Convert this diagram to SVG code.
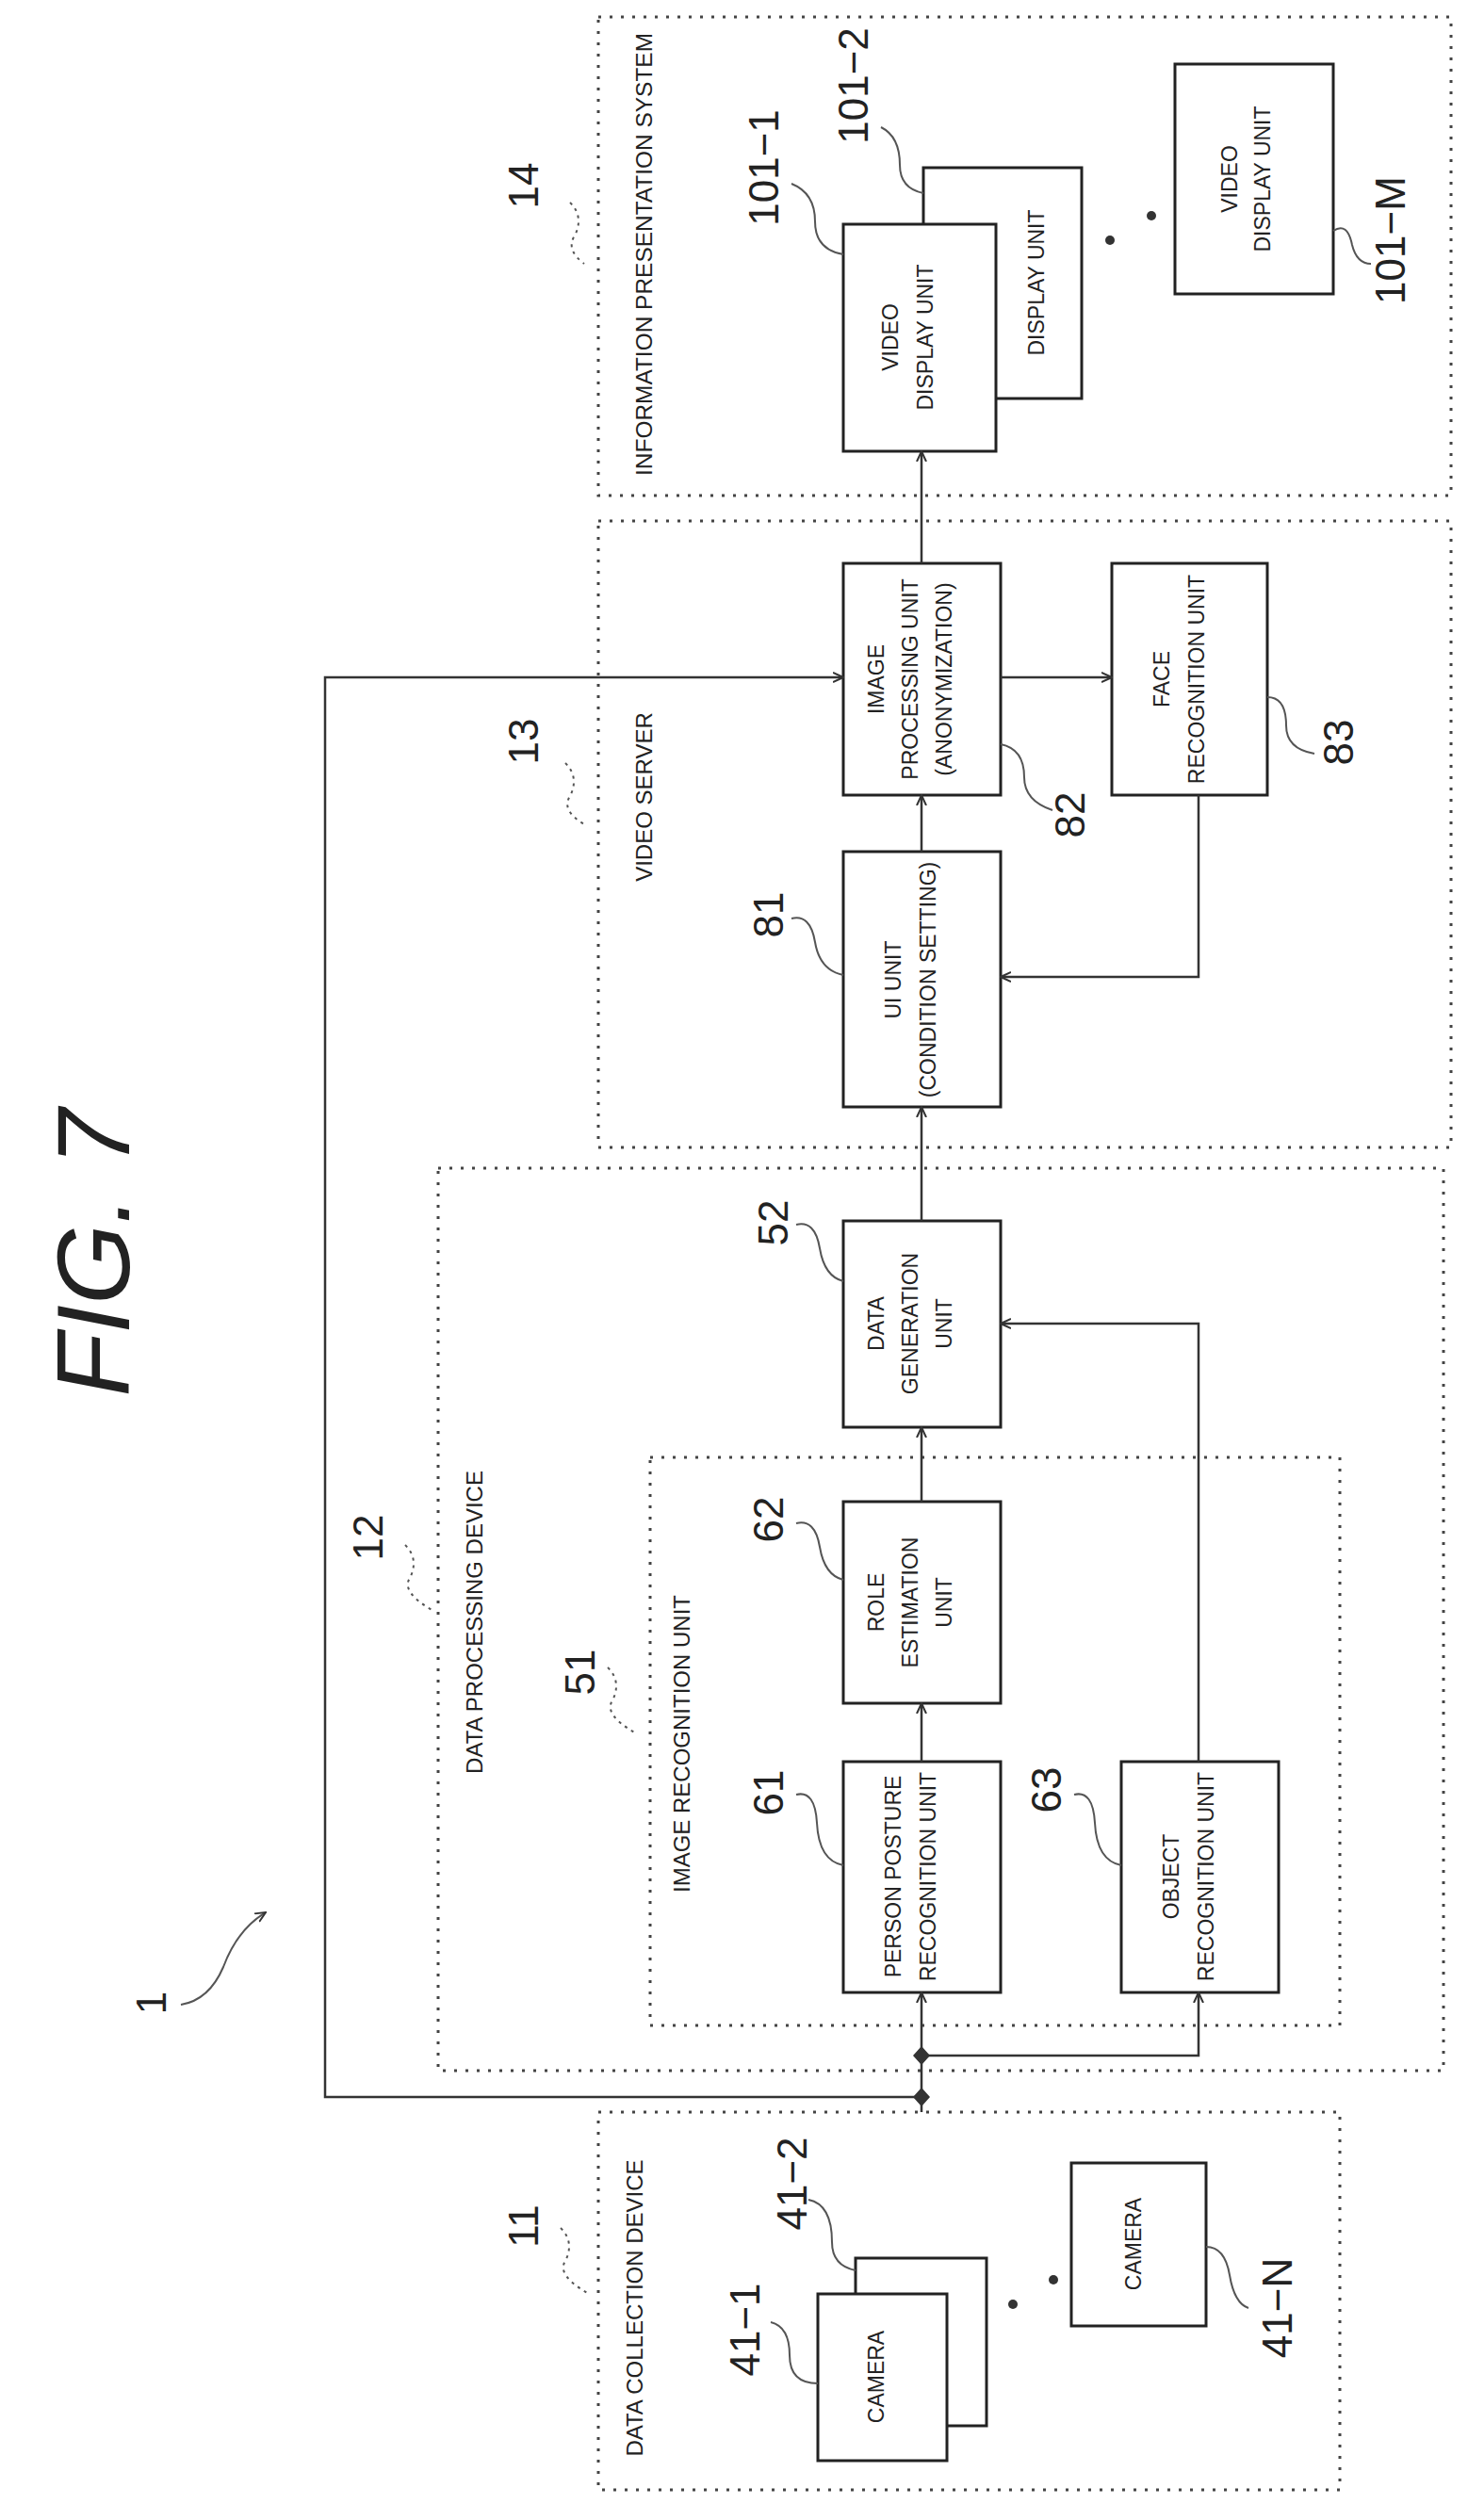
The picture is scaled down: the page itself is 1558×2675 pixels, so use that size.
<svg xmlns="http://www.w3.org/2000/svg" width="1558" height="2675" viewBox="0 0 1558 2675">
<style>
.dash{fill:none;stroke:#444;stroke-width:3;stroke-dasharray:3 9}
.box{fill:#fff;stroke:#222;stroke-width:3}
.ln{fill:none;stroke:#333;stroke-width:2.5}
.ld{fill:none;stroke:#555;stroke-width:2}
.ldd{fill:none;stroke:#555;stroke-width:2;stroke-dasharray:3 5}
text{font-family:"Liberation Sans",Arial,sans-serif;fill:#222;text-anchor:middle;dominant-baseline:central}
.t{font-size:23px}
.n{font-size:44px}
.s{font-size:24px}
</style>
<defs>
<marker id="a" viewBox="0 0 12 12" refX="11" refY="6" markerWidth="12" markerHeight="12" markerUnits="userSpaceOnUse" orient="auto">
<path d="M0,1 L11,6 L0,11" fill="none" stroke="#333" stroke-width="2"/>
</marker>
</defs>
<text transform="translate(98,1330) rotate(-90)" style="font-size:110px;font-style:italic">FIG. 7</text>

<g id="frames">
<rect class="dash" x="635" y="18" width="905" height="508"/>
<rect class="dash" x="635" y="553" width="905" height="665"/>
<rect class="dash" x="465" y="1240" width="1067" height="958"/>
<rect class="dash" x="690" y="1547" width="732" height="603"/>
<rect class="dash" x="635" y="2242" width="787" height="401"/>
<text class="s" transform="translate(683,270) rotate(-90)" textLength="470" lengthAdjust="spacingAndGlyphs">INFORMATION PRESENTATION SYSTEM</text>
<text class="n" transform="translate(555,197) rotate(-90)">14</text>
<path class="ldd" d="M605,215 q15,15 5,35 q-10,15 10,30"/>
<text class="s" transform="translate(683,846) rotate(-90)">VIDEO SERVER</text>
<text class="n" transform="translate(555,787) rotate(-90)">13</text>
<path class="ldd" d="M600,810 q15,15 5,35 q-10,15 15,30"/>
<text class="s" transform="translate(503,1722) rotate(-90)">DATA PROCESSING DEVICE</text>
<text class="n" transform="translate(390,1632) rotate(-90)">12</text>
<path class="ldd" d="M430,1640 q15,15 5,35 q-10,15 25,35"/>
<text class="s" transform="translate(723,1851) rotate(-90)">IMAGE RECOGNITION UNIT</text>
<text class="n" transform="translate(615,1775) rotate(-90)">51</text>
<path class="ldd" d="M645,1770 q15,15 5,35 q-10,15 25,35"/>
<text class="s" transform="translate(673,2450) rotate(-90)">DATA COLLECTION DEVICE</text>
<text class="n" transform="translate(555,2363) rotate(-90)">11</text>
<path class="ldd" d="M595,2365 q15,15 5,35 q-10,15 25,35"/>
<text class="n" transform="translate(160,2126) rotate(-90)">1</text>
<path class="ld" d="M192,2128 q30,-5 45,-40 q15,-40 45,-58" marker-end="url(#a)"/>
</g>

<g id="n101-M"><rect class="box" x="1247" y="68" width="168" height="244"/>
<text class="t" transform="translate(1305,190) rotate(-90)">VIDEO</text>
<text class="t" transform="translate(1340,190) rotate(-90)">DISPLAY UNIT</text>
<text class="n" transform="translate(1475,255) rotate(-90)">101−M</text>
<path class="ld" d="M1415,245 q15,-10 20,15 q5,20 20,20"/></g>
<g id="n101-2"><rect class="box" x="980" y="178" width="168" height="245"/>
<text class="t" transform="translate(1100,300) rotate(-90)">DISPLAY UNIT</text>
<text class="n" transform="translate(905,91) rotate(-90)">101−2</text>
<path class="ld" d="M980,205 q-25,-5 -25,-30 q0,-30 -20,-40"/></g>
<g id="n101-1"><rect class="box" x="895" y="238" width="162" height="241"/>
<text class="t" transform="translate(945,358) rotate(-90)">VIDEO</text>
<text class="t" transform="translate(982,358) rotate(-90)">DISPLAY UNIT</text>
<text class="n" transform="translate(810,178) rotate(-90)">101−1</text>
<path class="ld" d="M895,270 q-30,-5 -30,-35 q0,-30 -25,-40"/></g>
<g id="dots1"><circle cx="1178" cy="255" r="5" fill="#333"/><circle cx="1222" cy="229" r="5" fill="#333"/></g>

<g id="n82"><rect class="box" x="895" y="598" width="167" height="246"/>
<text class="t" transform="translate(930,721) rotate(-90)">IMAGE</text>
<text class="t" transform="translate(966,721) rotate(-90)">PROCESSING UNIT</text>
<text class="t" transform="translate(1002,721) rotate(-90)">(ANONYMIZATION)</text>
<text class="n" transform="translate(1135,865) rotate(-90)">82</text>
<path class="ld" d="M1062,790 q25,5 25,35 q0,25 30,35"/></g>
<g id="n83"><rect class="box" x="1180" y="598" width="165" height="246"/>
<text class="t" transform="translate(1233,721) rotate(-90)">FACE</text>
<text class="t" transform="translate(1270,721) rotate(-90)">RECOGNITION UNIT</text>
<text class="n" transform="translate(1420,788) rotate(-90)">83</text>
<path class="ld" d="M1345,740 q20,0 20,30 q0,25 30,30"/></g>
<g id="n81"><rect class="box" x="895" y="904" width="167" height="271"/>
<text class="t" transform="translate(948,1040) rotate(-90)">UI UNIT</text>
<text class="t" transform="translate(985,1040) rotate(-90)">(CONDITION SETTING)</text>
<text class="n" transform="translate(815,971) rotate(-90)">81</text>
<path class="ld" d="M840,975 q20,-5 25,25 q5,30 30,35"/></g>
<g id="n52"><rect class="box" x="895" y="1296" width="167" height="219"/>
<text class="t" transform="translate(930,1405) rotate(-90)">DATA</text>
<text class="t" transform="translate(966,1405) rotate(-90)">GENERATION</text>
<text class="t" transform="translate(1002,1405) rotate(-90)">UNIT</text>
<text class="n" transform="translate(820,1298) rotate(-90)">52</text>
<path class="ld" d="M845,1300 q20,-5 25,25 q5,30 25,35"/></g>
<g id="n62"><rect class="box" x="895" y="1594" width="167" height="214"/>
<text class="t" transform="translate(930,1701) rotate(-90)">ROLE</text>
<text class="t" transform="translate(966,1701) rotate(-90)">ESTIMATION</text>
<text class="t" transform="translate(1002,1701) rotate(-90)">UNIT</text>
<text class="n" transform="translate(815,1613) rotate(-90)">62</text>
<path class="ld" d="M845,1617 q20,-5 25,25 q5,30 25,35"/></g>
<g id="n61"><rect class="box" x="895" y="1870" width="167" height="245"/>
<text class="t" transform="translate(948,1992) rotate(-90)">PERSON POSTURE</text>
<text class="t" transform="translate(985,1992) rotate(-90)">RECOGNITION UNIT</text>
<text class="n" transform="translate(815,1903) rotate(-90)">61</text>
<path class="ld" d="M845,1905 q20,-5 22,30 q2,40 28,45"/></g>
<g id="n63"><rect class="box" x="1190" y="1870" width="167" height="245"/>
<text class="t" transform="translate(1243,1992) rotate(-90)">OBJECT</text>
<text class="t" transform="translate(1280,1992) rotate(-90)">RECOGNITION UNIT</text>
<text class="n" transform="translate(1110,1900) rotate(-90)">63</text>
<path class="ld" d="M1140,1905 q20,-5 22,30 q2,40 28,45"/></g>

<g id="n41-2"><rect class="box" x="908" y="2397" width="139" height="178"/>
<text class="n" transform="translate(840,2318) rotate(-90)">41−2</text>
<path class="ld" d="M908,2410 q-25,-5 -25,-30 q0,-40 -25,-45"/></g>
<g id="n41-1"><rect class="box" x="868" y="2435" width="137" height="177"/>
<text class="t" transform="translate(930,2523) rotate(-90)">CAMERA</text>
<text class="n" transform="translate(790,2473) rotate(-90)">41−1</text>
<path class="ld" d="M868,2530 q-30,0 -30,-30 q0,-30 -20,-35"/></g>
<g id="n41-N"><rect class="box" x="1137" y="2296" width="143" height="173"/>
<text class="t" transform="translate(1203,2382) rotate(-90)">CAMERA</text>
<text class="n" transform="translate(1355,2450) rotate(-90)">41−N</text>
<path class="ld" d="M1280,2385 q20,0 25,30 q5,30 20,35"/></g>
<g id="dots2"><circle cx="1075" cy="2446" r="5" fill="#333"/><circle cx="1118" cy="2420" r="5" fill="#333"/></g>

<g id="connectors">
<path class="ln" d="M978,2242 L978,2115" marker-end="url(#a)"/>
<path class="ln" d="M978,2182 L1272,2182 L1272,2115" marker-end="url(#a)"/>
<path class="ln" d="M978,2226 L345,2226 L345,719 L895,719" marker-end="url(#a)"/>
<path class="ln" d="M978,1870 L978,1808" marker-end="url(#a)"/>
<path class="ln" d="M978,1594 L978,1515" marker-end="url(#a)"/>
<path class="ln" d="M1272,1870 L1272,1405 L1062,1405" marker-end="url(#a)"/>
<path class="ln" d="M978,1296 L978,1175" marker-end="url(#a)"/>
<path class="ln" d="M978,904 L978,844" marker-end="url(#a)"/>
<path class="ln" d="M1062,719 L1180,719" marker-end="url(#a)"/>
<path class="ln" d="M1272,844 L1272,1037 L1062,1037" marker-end="url(#a)"/>
<path class="ln" d="M978,598 L978,479" marker-end="url(#a)"/>
<path d="M978,2172 l9,10 l-9,10 l-9,-10z M978,2216 l9,10 l-9,10 l-9,-10z" fill="#333"/>
</g>
</svg>
